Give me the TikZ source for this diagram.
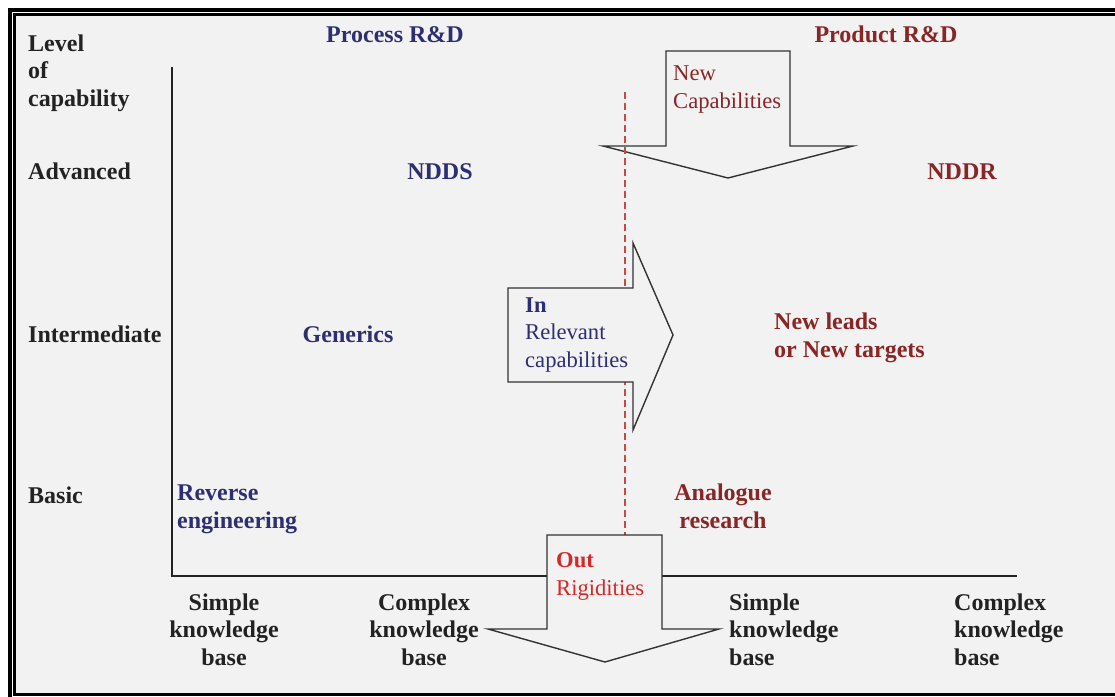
\documentclass[tikz,border=0pt]{standalone}
\usepackage{fontspec}
\setmainfont{Liberation Serif}
\definecolor{bgc}{HTML}{F2F2F2}
\definecolor{ink}{HTML}{222222}
\definecolor{navy}{HTML}{2E2E72}
\definecolor{dred}{HTML}{8A2525}
\definecolor{hot}{HTML}{D62828}
\definecolor{edge}{HTML}{333333}
\definecolor{divred}{HTML}{C84848}
\begin{document}
\begin{tikzpicture}[x=1pt,y=-1pt,
  lbl/.style={inner sep=0pt, font=\fontsize{24}{27.5}\selectfont\bfseries},
  reg/.style={inner sep=0pt, font=\fontsize{22.6}{27.5}\selectfont},
  blockarrow/.style={fill=bgc, draw=edge, line width=1.4pt, line join=miter}]
\useasboundingbox (0,0) rectangle (1115,696);
\fill[white] (0,0) rectangle (1115,696);
% panel and double frame
\fill[bgc] (14.5,14.5) rectangle (1125,694.5);
\draw[line width=4pt] (10,720) -- (10,10) -- (1125,10);
\draw[line width=2.6pt] (1125,694.5) -- (14.5,694.5) -- (14.5,14.5) -- (1125,14.5);
% axes
\coordinate (origin) at (172,576);
\coordinate (ytop) at (172,67);
\coordinate (xend) at (1017,576);
\draw[ink, line width=1.6pt] (ytop) -- (origin) -- (xend);
% arrow bringing new capabilities
\filldraw[blockarrow] (666,51) -- (666,146) -- (603,146) -- (728,178) -- (853,146) -- (790,146) -- (790,51) -- cycle;
% process / product divide
\coordinate (divtop) at (625,92);
\coordinate (divbot) at (625,535);
\draw[divred, line width=1.5pt, dash pattern=on 7pt off 4pt] (divtop) -- (divbot);
% arrow of relevant capabilities going in
\filldraw[blockarrow] (508,288) -- (633,288) -- (633,243) -- (673,335) -- (633,430) -- (633,382) -- (508,382) -- cycle;
% arrow of rigidities going out
\filldraw[blockarrow] (547,535) -- (662,535) -- (662,629) -- (719,629) -- (605,662) -- (488,629) -- (547,629) -- cycle;
% level labels (multi-line nodes sit on their last baseline)
\node[lbl, text=ink, anchor=base west, align=left] (lev) at (28,106) {\fontsize{24}{31.5}\selectfont Level\\of\\capability};
\node[lbl, text=ink, anchor=base west] (adv) at (28,179) {Advanced};
\node[lbl, text=ink, anchor=base west] (int) at (28,342) {Intermediate};
\node[lbl, text=ink, anchor=base west] (bas) at (28,503) {Basic};
% column heads
\node[lbl, text=navy, anchor=base] (proc) at (395,42) {Process R\&D};
\node[lbl, text=dred, anchor=base] (prod) at (886,42) {Product R\&D};
% process side
\node[lbl, text=navy, anchor=base] (ndds) at (440,179) {NDDS};
\node[lbl, text=navy, anchor=base] (gen) at (348,342) {Generics};
\node[lbl, text=navy, anchor=base west, align=left] (rev) at (177,528) {\fontsize{24}{25}\selectfont Reverse\\engineering};
% product side
\node[lbl, text=dred, anchor=base] (nddr) at (962,179) {NDDR};
\node[lbl, text=dred, anchor=base west, align=left] (leads) at (774,357) {\fontsize{24}{23}\selectfont New leads\\or New targets};
\node[lbl, text=dred, anchor=base, align=center] (ana) at (723,528) {\fontsize{24}{25}\selectfont Analogue\\research};
% arrow texts
\node[reg, text=navy, anchor=base west, align=left] (intxt) at (525,367) {\textbf{In}\\Relevant\\capabilities};
\node[reg, text=dred, anchor=base west, align=left] (newtxt) at (673,108) {\fontsize{22.6}{23}\selectfont New\\Capabilities};
\node[reg, text=hot, anchor=base west, align=left] (outtxt) at (556,595) {\fontsize{22.6}{29}\selectfont\textbf{Out}\\Rigidities};
% knowledge base labels
\node[lbl, text=ink, anchor=base, align=center] (k1) at (224,665) {Simple\\knowledge\\base};
\node[lbl, text=ink, anchor=base, align=center] (k2) at (424,665) {Complex\\knowledge\\base};
\node[lbl, text=ink, anchor=base west, align=left] (k3) at (729,665) {Simple\\knowledge\\base};
\node[lbl, text=ink, anchor=base west, align=left] (k4) at (954,665) {Complex\\knowledge\\base};
\end{tikzpicture}
\end{document}
